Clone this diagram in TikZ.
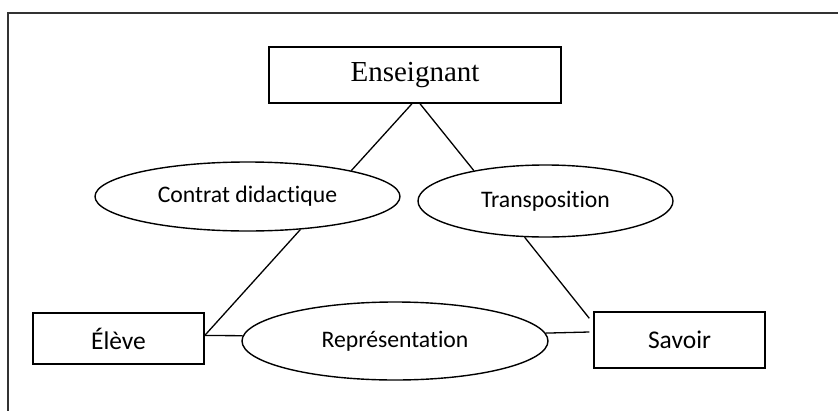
\documentclass[tikz,border=0pt]{standalone}
\usepackage{fontspec}
\setmainfont{Carlito}[Ligatures=NoCommon]
\newfontfamily\timesfont{Liberation Serif}
\usetikzlibrary{shapes.geometric}

\begin{document}
\begin{tikzpicture}[x=1pt, y=-1pt,
  pole/.style={draw, line width=1.4pt, inner sep=0pt,
    font=\fontsize{25.5}{30}\selectfont},
  bulle/.style={draw, ellipse, line width=1.4pt, inner sep=0pt,
    font=\fontsize{23.7}{28}\selectfont},
  lien/.style={line width=1.3pt}]
\useasboundingbox (0,0) rectangle (838,410);
% Frame
\draw[line width=2pt, black!80] (8,430) |- (850,13);
% Top: Enseignant
\node[pole, minimum width=292pt, minimum height=56pt,
  font=\timesfont\fontsize{29}{34}\selectfont] (ens) at (415,75) {Enseignant};
% Bottom left: Eleve
\node[pole, minimum width=171pt, minimum height=51pt] (eleve) at (118.5,338.5) {Élève};
% Bottom right: Savoir
\node[pole, minimum width=171pt, minimum height=56pt] (savoir) at (679.5,340) {Savoir};
% Relations
\node[bulle, minimum width=305pt, minimum height=69pt] (contrat) at (247.5,196.5) {Contrat didactique};
\node[bulle, minimum width=255pt, minimum height=72pt] (transpo) at (545.5,201) {Transposition};
\node[bulle, minimum width=306pt, minimum height=78pt] (repr) at (395,341) {Représentation};
% Links
\draw[lien] ([xshift=-3pt]ens.south) -- (contrat.14);
\draw[lien] ([xshift=5pt]ens.south) -- (transpo.157);
\draw[lien] (contrat.-32) -- (eleve.2);
\draw[lien] (eleve.2) -- (repr.178);
\draw[lien] (transpo.-120) -- ([xshift=-4pt, yshift=-7pt]savoir.north west);
\draw[lien] (repr.3) -- ([xshift=-4pt, yshift=8pt]savoir.west);
\end{tikzpicture}
\end{document}
